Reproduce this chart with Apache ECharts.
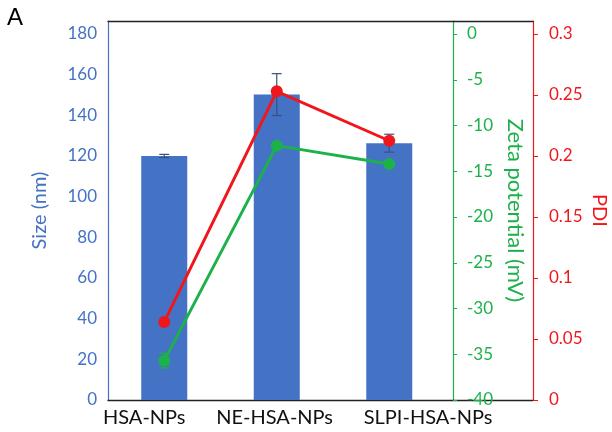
<!DOCTYPE html>
<html><head><meta charset="utf-8">
<script src="https://cdn.jsdelivr.net/npm/echarts@6/dist/echarts.min.js"></script>
<style>html,body{margin:0;padding:0;background:#fff}#c{width:612px;height:432px}</style>
</head><body><div id="c"></div>
<script>
const categories = ['HSA-NPs', 'NE-HSA-NPs', 'SLPI-HSA-NPs'];
const sizeValues = [120, 150.2, 126.3];
const sizeErrors = [0.8, 10.3, 4.4];
const zetaValues = [-35.7, -12.2, -14.2];
const zetaErrors = [0.8, 0, 0];
const pdiValues = [0.064, 0.253, 0.2125];
const sizeTicks = [0, 20, 40, 60, 80, 100, 120, 140, 160, 180];
const zetaTicks = [-40, -35, -30, -25, -20, -15, -10, -5, 0];
const pdiTicks = [0, 0.05, 0.1, 0.15, 0.2, 0.25, 0.3];

const BLUE = '#4472C4', GREEN = '#1DB14B', RED = '#F0171C';
const FONT = 'Lato';
// plot area runs a little above the top tick (Excel-like)
const topFrac = 379 / 366;

const errSeries = (vals, errs, yAxisIndex, color) => ({
  type: 'custom', xAxisIndex: 0, yAxisIndex: yAxisIndex, z: 5,
  data: vals.map((v, i) => [i, v, errs[i]]),
  renderItem: (params, api) => {
    const x = api.value(0), v = api.value(1), e = api.value(2);
    if (!e) return null;
    const hi = api.coord([x, v + e]), lo = api.coord([x, v - e]);
    const w = 5;
    const st = { stroke: color, lineWidth: 1.2 };
    return { type: 'group', children: [
      { type: 'line', shape: { x1: hi[0], y1: hi[1], x2: lo[0], y2: lo[1] }, style: st },
      { type: 'line', shape: { x1: hi[0] - w, y1: hi[1], x2: hi[0] + w, y2: hi[1] }, style: st },
      { type: 'line', shape: { x1: lo[0] - w, y1: lo[1], x2: lo[0] + w, y2: lo[1] }, style: st }
    ]};
  }
});

const chart = echarts.init(document.getElementById('c'));
chart.setOption({
  animation: false,
  textStyle: { fontFamily: FONT },
  graphic: [
    { type: 'text', left: 7, top: 6, style: { text: 'A', fontSize: 24, fontFamily: 'Liberation Sans', fill: '#000' } },
    // category labels sit as one evenly-gapped text line under the axis (as in the original figure)
    { type: 'text', left: 103, top: 408, style: { text: categories.join('      '), fontSize: 20, fontFamily: FONT, fill: '#111' } }
  ],
  grid: [
    { left: 108, top: 21, width: 337.5, height: 379, outerBoundsMode: 'none', containLabel: false },
    { left: 108, top: 21, width: 425, height: 379, outerBoundsMode: 'none', containLabel: false }
  ],
  xAxis: [
    { type: 'category', gridIndex: 0, data: categories,
      axisLine: { show: false }, axisTick: { show: false },
      axisLabel: { show: false } },
    { type: 'value', gridIndex: 1, min: 0, max: 1, position: 'bottom',
      axisLine: { show: true, lineStyle: { color: '#222', width: 1.3 } },
      axisTick: { show: false }, axisLabel: { show: false }, splitLine: { show: false } },
    { type: 'value', gridIndex: 1, min: 0, max: 1, position: 'top',
      axisLine: { show: true, lineStyle: { color: '#222', width: 1.3 } },
      axisTick: { show: false }, axisLabel: { show: false }, splitLine: { show: false } }
  ],
  yAxis: [
    { type: 'value', gridIndex: 0, min: 0, max: 180 * topFrac, position: 'left',
      name: 'Size (nm)', nameLocation: 'middle', nameGap: 58, nameRotate: 90,
      nameTextStyle: { color: BLUE, fontSize: 20, fontFamily: FONT },
      axisLine: { show: true, lineStyle: { color: BLUE, width: 1.2 } },
      axisTick: { show: false },
      axisLabel: { color: BLUE, fontSize: 17, margin: 11, customValues: sizeTicks },
      splitLine: { show: false } },
    { type: 'value', gridIndex: 0, min: -40, max: -40 + 40 * topFrac, position: 'right', offset: 7.5,
      name: 'Zeta potential (mV)', nameLocation: 'middle', nameGap: 47, nameRotate: -90,
      nameTextStyle: { color: GREEN, fontSize: 22, fontFamily: FONT },
      axisLine: { show: true, lineStyle: { color: GREEN, width: 1.2 } },
      axisTick: { show: true, inside: false, length: 4, lineStyle: { color: GREEN }, customValues: zetaTicks },
      axisLabel: { color: GREEN, fontSize: 17, margin: 14, customValues: zetaTicks },
      splitLine: { show: false } },
    { type: 'value', gridIndex: 0, min: 0, max: 0.3 * topFrac, position: 'right', offset: 87.5,
      name: 'PDI', nameLocation: 'middle', nameGap: 56, nameRotate: -90, nameMoveOverlap: false,
      nameTextStyle: { color: RED, fontSize: 20, fontFamily: FONT },
      axisLine: { show: true, lineStyle: { color: RED, width: 1.2 } },
      axisTick: { show: true, inside: false, length: 5, lineStyle: { color: RED }, customValues: pdiTicks },
      axisLabel: { color: RED, fontSize: 17, margin: 16, customValues: pdiTicks,
        formatter: v => String(+v.toFixed(2)) },
      splitLine: { show: false } },
    { type: 'value', gridIndex: 1, min: 0, max: 1, show: false }
  ],
  series: [
    { type: 'bar', xAxisIndex: 0, yAxisIndex: 0, data: sizeValues, barWidth: 46,
      itemStyle: { color: BLUE }, z: 2 },
    errSeries(sizeValues, sizeErrors, 0, '#3D4F7C'),
    { type: 'line', xAxisIndex: 0, yAxisIndex: 1, data: zetaValues, z: 6,
      symbol: 'circle', symbolSize: 12, lineStyle: { color: GREEN, width: 3 },
      itemStyle: { color: GREEN } },
    errSeries(zetaValues, zetaErrors, 1, GREEN),
    { type: 'line', xAxisIndex: 0, yAxisIndex: 2, data: pdiValues, z: 7,
      symbol: 'circle', symbolSize: 12, lineStyle: { color: RED, width: 3 },
      itemStyle: { color: RED } }
  ]
});
</script></body></html>
